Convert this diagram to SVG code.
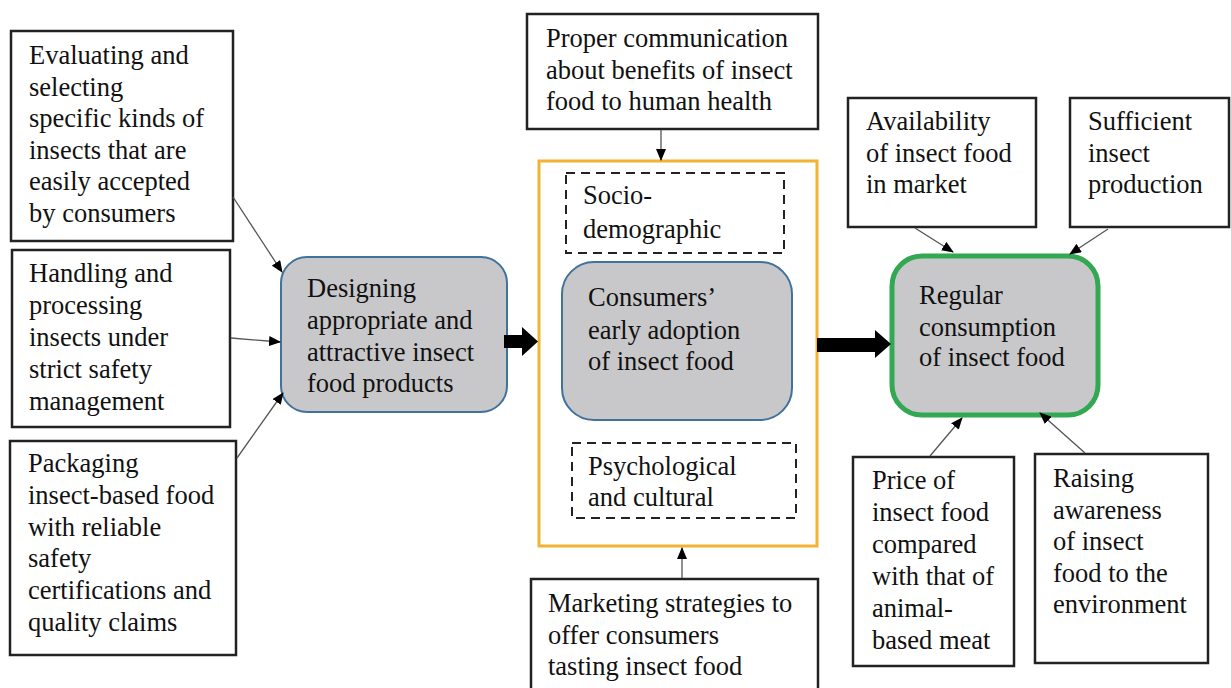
<svg xmlns="http://www.w3.org/2000/svg" width="1231" height="688" viewBox="0 0 1231 688">
<defs>
<style>
.box{fill:#fff;stroke:#222;stroke-width:2.5}
.dash{fill:#fff;stroke:#222;stroke-width:2;stroke-dasharray:9 6}
.core{fill:#c8c8ca;stroke:#41719c;stroke-width:2}
.green{fill:#c8c8ca;stroke:#33a852;stroke-width:5}
.frame{fill:none;stroke:#f2b233;stroke-width:3}
text{font-family:'Liberation Serif','DejaVu Serif',serif;font-size:26.5px;fill:#111}
.thin{stroke:#555;stroke-width:1.3;fill:none;marker-end:url(#ah)}
.fat{fill:#000}
</style>
<marker id="ah" viewBox="0 0 12 10" refX="11" refY="5" markerWidth="12" markerHeight="10" markerUnits="userSpaceOnUse" orient="auto">
<path d="M0,0 L12,5 L0,10 Z" fill="#000"/>
</marker>
</defs>
<rect width="1231" height="688" fill="#fff"/>
<g id="n-evaluating">
<rect class="box" x="11" y="31" width="222" height="210"/>
<text x="29" y="64">Evaluating and</text>
<text x="29" y="95.5">selecting</text>
<text x="29" y="127">specific kinds of</text>
<text x="29" y="158.5">insects that are</text>
<text x="29" y="190">easily accepted</text>
<text x="29" y="221.5">by consumers</text>
</g>
<g id="n-handling">
<rect class="box" x="12" y="250" width="218" height="177"/>
<text x="29" y="282">Handling and</text>
<text x="29" y="314">processing</text>
<text x="29" y="346">insects under</text>
<text x="29" y="378">strict safety</text>
<text x="29" y="410">management</text>
</g>
<g id="n-packaging">
<rect class="box" x="10" y="441" width="226" height="214"/>
<text x="28" y="472">Packaging</text>
<text x="28" y="504">insect-based food</text>
<text x="28" y="535.5">with reliable</text>
<text x="28" y="567">safety</text>
<text x="28" y="599">certifications and</text>
<text x="28" y="630.5">quality claims</text>
</g>
<g id="n-designing">
<rect class="core" x="281" y="257" width="226" height="155" rx="26"/>
<text x="307" y="297">Designing</text>
<text x="307" y="329">appropriate and</text>
<text x="307" y="360.5">attractive insect</text>
<text x="307" y="392">food products</text>
</g>
<g id="n-communication">
<rect class="box" x="527" y="14" width="291" height="115"/>
<text x="546" y="47">Proper communication</text>
<text x="546" y="78.5">about benefits of insect</text>
<text x="546" y="110">food to human health</text>
</g>
<g id="n-adoption-frame">
<rect class="frame" x="539" y="161" width="278" height="385"/>
</g>
<g id="n-socio">
<rect class="dash" x="566" y="173" width="218" height="80"/>
<text x="583" y="204">Socio-</text>
<text x="583" y="238">demographic</text>
</g>
<g id="n-consumers">
<rect class="core" x="562" y="262" width="230" height="158" rx="32"/>
<text x="588" y="306">Consumers’</text>
<text x="588" y="338.5">early adoption</text>
<text x="588" y="370">of insect food</text>
</g>
<g id="n-psych">
<rect class="dash" x="572" y="443" width="224" height="75"/>
<text x="588" y="475">Psychological</text>
<text x="588" y="506">and cultural</text>
</g>
<g id="n-marketing">
<rect class="box" x="531" y="579" width="287" height="120"/>
<text x="548" y="612">Marketing strategies to</text>
<text x="548" y="644">offer consumers</text>
<text x="548" y="675">tasting insect food</text>
</g>
<g id="n-regular">
<rect class="green" x="892" y="256" width="206" height="159" rx="30"/>
<text x="919" y="304">Regular</text>
<text x="919" y="335.5">consumption</text>
<text x="919" y="366">of insect food</text>
</g>
<g id="n-availability">
<rect class="box" x="848" y="98" width="188" height="129"/>
<text x="866" y="130">Availability</text>
<text x="866" y="161.5">of insect food</text>
<text x="866" y="193">in market</text>
</g>
<g id="n-sufficient">
<rect class="box" x="1070" y="98" width="159" height="129"/>
<text x="1088" y="130">Sufficient</text>
<text x="1088" y="161.5">insect</text>
<text x="1088" y="193">production</text>
</g>
<g id="n-price">
<rect class="box" x="853" y="457" width="161" height="209"/>
<text x="872" y="488.5">Price of</text>
<text x="872" y="520.5">insect food</text>
<text x="872" y="552.5">compared</text>
<text x="872" y="584.5">with that of</text>
<text x="872" y="616.5">animal-</text>
<text x="872" y="648.5">based meat</text>
</g>
<g id="n-raising">
<rect class="box" x="1035" y="454" width="173" height="209"/>
<text x="1053" y="486.5">Raising</text>
<text x="1053" y="518.5">awareness</text>
<text x="1053" y="550">of insect</text>
<text x="1053" y="581.5">food to the</text>
<text x="1053" y="613">environment</text>
</g>
<g id="connectors">
<line class="thin" x1="233" y1="197" x2="282" y2="272"/>
<line class="thin" x1="231" y1="338" x2="280" y2="342"/>
<line class="thin" x1="237" y1="458" x2="283" y2="393"/>
<line class="thin" x1="661" y1="130" x2="661" y2="160"/>
<line class="thin" x1="682" y1="578" x2="682" y2="548"/>
<line class="thin" x1="915" y1="228" x2="953" y2="252"/>
<line class="thin" x1="1108" y1="229" x2="1070" y2="254"/>
<line class="thin" x1="930" y1="456" x2="962" y2="418"/>
<line class="thin" x1="1085" y1="453" x2="1040" y2="413"/>
<path class="fat" d="M504,335 L522,335 L522,327 L538,341.5 L522,356 L522,348 L504,348 Z"/>
<path class="fat" d="M817,338 L875,338 L875,330 L891,344 L875,358 L875,352 L817,352 Z"/>
</g>
</svg>
